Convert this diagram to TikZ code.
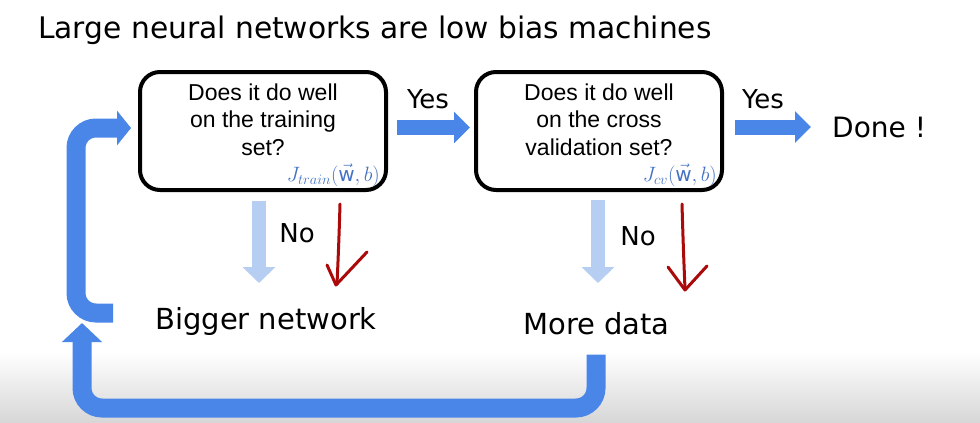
\documentclass[tikz,border=0pt]{standalone}
\usepackage{fontspec}
\setmainfont{DejaVu Sans}
\newfontfamily\arialf{Liberation Sans}
\usetikzlibrary{arrows.meta}
\definecolor{arrblue}{RGB}{74,134,232}
\definecolor{lightblue}{RGB}{182,206,242}
\definecolor{jblue}{RGB}{68,114,196}
\definecolor{darkred}{RGB}{170,10,10}
\begin{document}
\begin{tikzpicture}[x=1pt,y=-1pt,
  box/.style={draw=black, line width=4pt, rounded corners=20pt, minimum width=246pt, minimum height=118pt, inner sep=0pt},
  boxtext/.style={font=\arialf\fontsize{23}{28}\selectfont, inner sep=0pt, anchor=base},
  jlabel/.style={text=jblue, font=\fontsize{20}{20}\selectfont, inner sep=0pt, anchor=base east},
  lbl/.style={font=\fontsize{26}{26}\selectfont, inner sep=0pt},
  biglbl/.style={font=\fontsize{29}{29}\selectfont, inner sep=0pt},
  fatarrow/.style={draw=arrblue, line width=15pt, -{Triangle[width=31pt,length=16pt]}},
  downarrow/.style={draw=lightblue, line width=14pt, -{Triangle[width=32pt,length=16pt]}},
  looparrow/.style={draw=arrblue, line width=19pt, rounded corners=20pt},
  redpen/.style={draw=darkred, line width=3pt, line cap=round, line join=round}]
\useasboundingbox (0,0) rectangle (980,423);
\fill[white] (0,0) rectangle (980,423);
\shade[top color=white, bottom color=black!16] (0,352) rectangle (980,423);

% title
\node[font=\fontsize{29.7}{30}\selectfont, inner sep=0pt, anchor=base west] (title) at (38,38) {Large neural networks are low bias machines};

% boxes
\node[box] (b1) at (263,131) {};
\node[box] (b2) at (599,131) {};
\node[boxtext] (t1a) at (263,100) {Does it do well};
\node[boxtext] (t1b) at (263,127.5) {on the training};
\node[boxtext] (t1c) at (263,155) {set?};
\node[boxtext] (t2a) at (599,100) {Does it do well};
\node[boxtext] (t2b) at (599,127.5) {on the cross};
\node[boxtext] (t2c) at (599,155) {validation set?};
\node[jlabel] (j1) at (380,181) {$J_{train}(\vec{\mathrm{w}},b)$};
\node[jlabel] (j2) at (717,181) {$J_{cv}(\vec{\mathrm{w}},b)$};

% yes arrows
\node[lbl, anchor=base] (yes1) at (428,108) {Yes};
\node[lbl, anchor=base] (yes2) at (763,108) {Yes};
\node[font=\fontsize{28}{28}\selectfont, inner sep=0pt, anchor=base west] (done) at (832,137) {Done !};
\draw[fatarrow] ([shift={(9,-3.5)}]b1.east) -- ([shift={(-4,-3.5)}]b2.west);
\draw[fatarrow] ([shift={(11,-4)}]b2.east) -- ([xshift=-21pt]done.west |- 0,127);

% results
\node[biglbl, anchor=base] (bigger) at (266,329) {Bigger network};
\node[biglbl, anchor=base] (more) at (596.5,334) {More data};

% no arrows
\node[lbl, anchor=base] (no1) at (297,242) {No};
\node[lbl, anchor=base] (no2) at (638,245) {No};
\draw[downarrow] ([shift={(-4,9)}]b1.south) -- ([xshift=-7pt]bigger.north |- 0,283);
\draw[downarrow] ([shift={(-1,8)}]b2.south) -- ([xshift=1.5pt]more.north |- 0,283);

% red hand-drawn arrows
\draw[redpen] (340,204) .. controls (339,240) and (338,262) .. (337,284);
\draw[redpen] (327,265) -- (336,285) -- (367,252);
\draw[redpen] (682,204) .. controls (683,240) and (684,265) .. (685,289);
\draw[redpen] (668,267) -- (685,290) -- (707,266);

% loop arrows
\coordinate (stub) at (113,313);
\draw[looparrow, -{Triangle[width=34pt,length=14pt]}] (stub) -- (76,313) -- (76,128) -- ([xshift=-7pt]b1.west |- 0,128);
\coordinate (lowtip) at (82,323);
\draw[looparrow, -{Triangle[width=39pt,length=19pt]}] ([shift={(-0.5,20)}]more.south) -- (596,408) -- (82,408) -- (lowtip);
\end{tikzpicture}
\end{document}
